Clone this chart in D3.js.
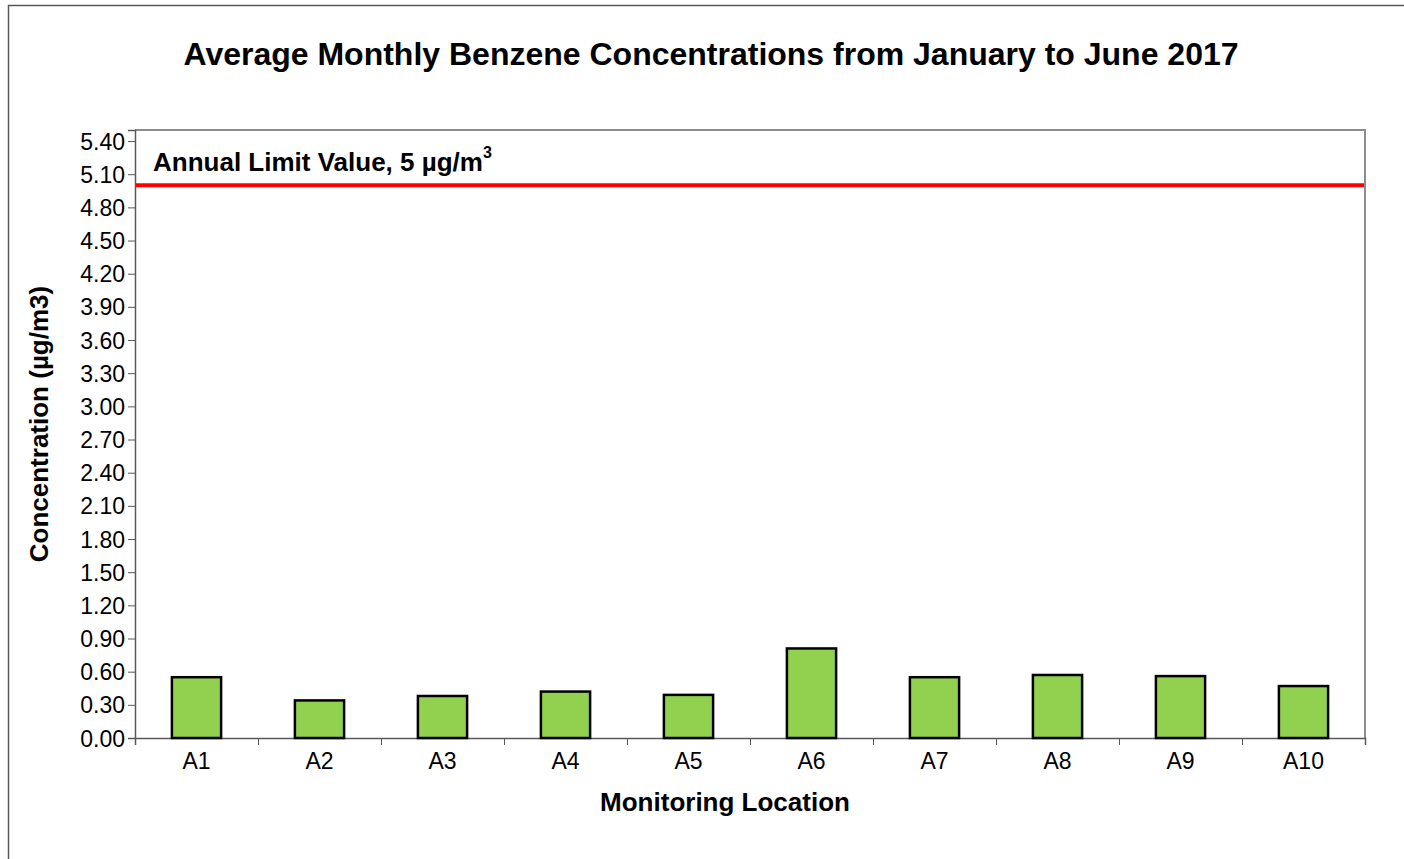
<!DOCTYPE html>
<html>
<head>
<meta charset="utf-8">
<script src="https://cdn.jsdelivr.net/npm/d3@7"></script>
<style>
  body { margin: 0; background: #fff; }
  text { font-family: "Liberation Sans", Arial, sans-serif; }
</style>
</head>
<body>
<svg width="1404" height="859"></svg>
<script>
// chart data
const locations = ["A1", "A2", "A3", "A4", "A5", "A6", "A7", "A8", "A9", "A10"];
const benzene = [0.55, 0.34, 0.38, 0.42, 0.39, 0.81, 0.55, 0.57, 0.56, 0.47];
const limitValue = 5;
const yTicks = [0, 0.3, 0.6, 0.9, 1.2, 1.5, 1.8, 2.1, 2.4, 2.7, 3.0, 3.3, 3.6, 3.9, 4.2, 4.5, 4.8, 5.1, 5.4];

const svg = d3.select("svg");
const plotL = 135, plotR = 1365, plotT = 130, plotB = 738;

// outer frame
svg.append("rect")
    .attr("x", 8.5).attr("y", 5.5)
    .attr("width", 1420).attr("height", 880)
    .attr("fill", "none").attr("stroke", "#595959").attr("stroke-width", 1.5);

const x = d3.scaleBand()
    .domain(locations)
    .range([plotL, plotR])
    .paddingInner(0.6)
    .paddingOuter(0.3);

const xEdge = d3.scaleLinear().domain([0, locations.length]).range([plotL, plotR]);

const y = d3.scaleLinear()
    .domain([0, 5.5])
    .range([plotB, plotT]);

// plot frame (top + right)
svg.append("path")
    .attr("d", `M${plotL},${plotT}H${plotR}V${plotB}`)
    .attr("fill", "none").attr("stroke", "#8c8c8c").attr("stroke-width", 2);

// y axis
const yAxis = svg.append("g")
    .attr("transform", `translate(${plotL},0)`)
    .call(d3.axisLeft(y).tickValues(yTicks).tickFormat(d3.format(".2f")).tickSize(7).tickPadding(3));
yAxis.select(".domain").attr("stroke", "#595959").attr("stroke-width", 1.5);
yAxis.selectAll(".tick line").attr("stroke", "#595959");
yAxis.selectAll("text").attr("font-size", 23).attr("fill", "#000").attr("dy", "0.35em");

// x axis, ticks at category boundaries
const xAxis = svg.append("g")
    .attr("transform", `translate(0,${plotB})`)
    .call(d3.axisBottom(xEdge).tickValues(d3.range(0, locations.length + 1)).tickFormat("").tickSize(7));
xAxis.select(".domain").attr("stroke", "#595959").attr("stroke-width", 1.5);
xAxis.selectAll(".tick line").attr("stroke", "#595959");

svg.append("g").selectAll("text")
    .data(locations)
    .enter().append("text")
    .attr("x", d => x(d) + x.bandwidth() / 2)
    .attr("y", plotB + 31)
    .attr("text-anchor", "middle")
    .attr("font-size", 23)
    .text(d => d);

// bars
svg.append("g").selectAll("rect")
    .data(benzene)
    .enter().append("rect")
    .attr("x", (d, i) => x(locations[i]))
    .attr("y", d => y(d))
    .attr("width", x.bandwidth())
    .attr("height", d => plotB - y(d))
    .attr("fill", "#92d050")
    .attr("stroke", "#000")
    .attr("stroke-width", 2.5);

// limit line
svg.append("line")
    .attr("x1", plotL + 1).attr("x2", plotR - 1)
    .attr("y1", y(limitValue)).attr("y2", y(limitValue))
    .attr("stroke", "#ff0000").attr("stroke-width", 4);

const lbl = svg.append("text")
    .attr("x", 153).attr("y", 171)
    .attr("font-size", 26).attr("font-weight", "bold")
    .text("Annual Limit Value, 5 µg/m");
lbl.append("tspan").attr("dy", -13).attr("font-size", 16).text("3");

// titles
svg.append("text")
    .attr("x", 711).attr("y", 65)
    .attr("text-anchor", "middle")
    .attr("font-size", 32).attr("font-weight", "bold")
    .text("Average Monthly Benzene Concentrations from January to June 2017");

svg.append("text")
    .attr("x", 725).attr("y", 811)
    .attr("text-anchor", "middle")
    .attr("font-size", 26).attr("font-weight", "bold")
    .text("Monitoring Location");

svg.append("text")
    .attr("transform", `translate(48,${(plotT + plotB) / 2 - 10}) rotate(-90)`)
    .attr("text-anchor", "middle")
    .attr("font-size", 26).attr("font-weight", "bold")
    .text("Concentration (µg/m3)");
</script>
</body>
</html>
